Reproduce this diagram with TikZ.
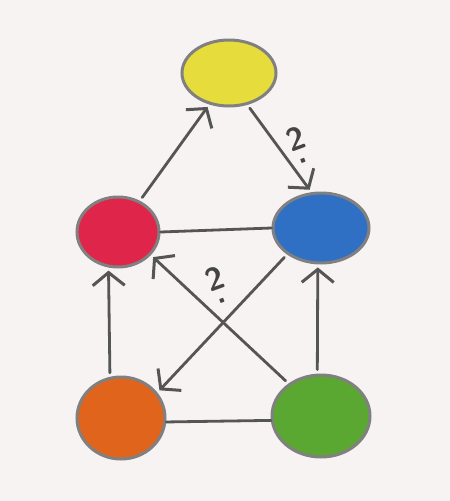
\documentclass[tikz,border=0pt]{standalone}
\usetikzlibrary{shapes.geometric,arrows.meta}
\definecolor{bg}{HTML}{F7F3F2}
\definecolor{pen}{HTML}{555555}
\definecolor{cyellow}{HTML}{E6DC3C}
\definecolor{cred}{HTML}{E0254A}
\definecolor{cblue}{HTML}{2F6FC4}
\definecolor{corange}{HTML}{E0641C}
\definecolor{cgreen}{HTML}{5AA832}
\tikzset{
  blob/.style={ellipse, draw=pen!75, line width=3pt, inner sep=0pt},
  conn/.style={draw=pen, line width=2.8pt, line cap=round},
  arr/.style={conn, -{Straight Barb[length=13pt,width=32pt,line width=3pt]}, shorten >=3pt, shorten <=4pt},
  lbl/.style={text=pen!80!black, font=\sffamily\bfseries\fontsize{32}{32}\selectfont, inner sep=0pt, align=center}
}
\begin{document}
\begin{tikzpicture}[x=1pt,y=-1pt]
\fill[bg] (0,0) rectangle (450,501);
\useasboundingbox (0,0) rectangle (450,501);
\node[blob, fill=cyellow, minimum width=94pt, minimum height=66pt] (yellow) at (229,73) {};
\node[blob, fill=cred, minimum width=82pt, minimum height=70pt] (red) at (118,232) {};
\node[blob, fill=cblue, minimum width=96pt, minimum height=70pt] (blue) at (321,228) {};
\node[blob, fill=corange, minimum width=88pt, minimum height=82pt] (orange) at (121,418) {};
\node[blob, fill=cgreen, minimum width=98pt, minimum height=82pt] (green) at (321,416) {};
% undirected
\draw[conn] (red.0) -- (blue.180);
\draw[conn] (orange.355) -- (green.185);
% directed
\draw[arr] (red.55) -- (yellow.238);
\draw[arr] (yellow.300) -- (blue.105);
\draw[arr] (orange.105) -- (red.255);
\draw[arr] (green.95) -- (blue.265);
\draw[arr] (blue.218) -- (orange.35);
\draw[arr] (green.135) -- (red.325);
% labels
\node[lbl, rotate=20] (l1) at (298,145) {2\\[-18pt].};
\node[lbl, rotate=20] (l2) at (217,285) {2\\[-18pt].};
\end{tikzpicture}
\end{document}
